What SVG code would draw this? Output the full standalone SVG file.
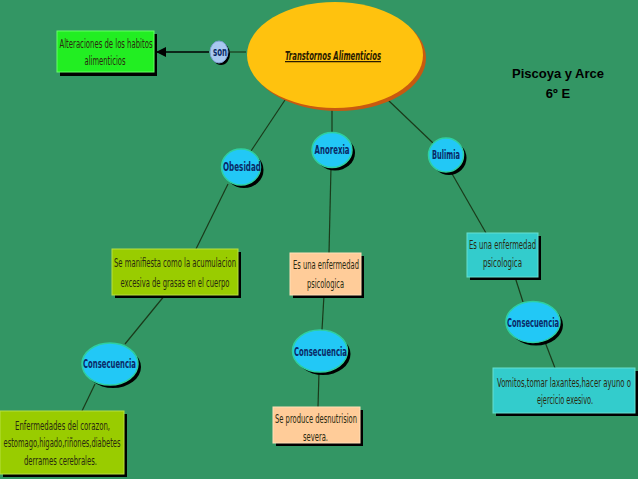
<svg xmlns="http://www.w3.org/2000/svg" width="638" height="479" viewBox="0 0 638 479">
<defs>
<style>
.t{font-family:"DejaVu Sans Condensed","DejaVu Sans",sans-serif;font-size:12.5px;fill:#2a2a10;text-anchor:middle}
.n{font-family:"DejaVu Sans Condensed","DejaVu Sans",sans-serif;font-size:12.5px;font-weight:bold;fill:#0a2a66;text-anchor:middle}
.bub{fill:#22c8f6;stroke:#2fd0a0;stroke-width:1.5}
.sh{fill:#000}
.ln{stroke:#1a3a1a;stroke-width:1.2;fill:none}
</style>
<marker id="ah" markerWidth="10" markerHeight="10" refX="9" refY="5" orient="auto" markerUnits="userSpaceOnUse">
<path d="M0,0 L10,5 L0,10 Z" fill="#000"/>
</marker>
</defs>
<rect width="638" height="479" fill="#339664"/>
<g id="connectors">
<line class="ln" x1="246" y1="52" x2="230" y2="52"/>
<line x1="209" y1="52" x2="157" y2="52" stroke="#000" stroke-width="1.5" marker-end="url(#ah)"/>
<line class="ln" x1="287" y1="97" x2="251" y2="151"/>
<line class="ln" x1="332" y1="108" x2="332" y2="133"/>
<line class="ln" x1="388" y1="100" x2="433" y2="143"/>
<line class="ln" x1="228" y1="184" x2="196" y2="249"/>
<line class="ln" x1="331" y1="167" x2="329" y2="253"/>
<line class="ln" x1="451" y1="172" x2="486" y2="233"/>
<line class="ln" x1="165" y1="295" x2="125" y2="344"/>
<line class="ln" x1="95" y1="384" x2="82" y2="411"/>
<line class="ln" x1="324" y1="295" x2="322" y2="330"/>
<line class="ln" x1="319" y1="372" x2="318" y2="407"/>
<line class="ln" x1="515" y1="277" x2="523" y2="302"/>
<line class="ln" x1="545" y1="342" x2="555" y2="368"/>
</g>
<g id="main">
<ellipse cx="338" cy="58" rx="88" ry="53" fill="#c85a10"/>
<ellipse cx="335" cy="55" rx="88" ry="53" fill="#ffc20e"/>
<text x="333" y="60" font-family="'DejaVu Sans Condensed','DejaVu Sans',sans-serif" font-size="12.5" font-weight="bold" font-style="italic" fill="#2a1a00" text-anchor="middle" text-decoration="underline" textLength="96" lengthAdjust="spacingAndGlyphs">Transtornos Alimenticios</text>
</g>
<g id="son">
<ellipse cx="221" cy="54" rx="9" ry="11" class="sh"/>
<ellipse cx="219" cy="52" rx="9" ry="11" fill="#a8c8f0" stroke="#7aa0d0" stroke-width="1"/>
<text class="n" x="220" y="56" textLength="14" lengthAdjust="spacingAndGlyphs">son</text>
</g>
<g id="alteraciones">
<rect x="60" y="34" width="97" height="42" class="sh"/>
<rect x="57" y="31" width="97" height="41" fill="#22ee22" stroke="#66ff66" stroke-width="1"/>
<text class="t" x="106" y="48" textLength="93" lengthAdjust="spacingAndGlyphs">Alteraciones de los habitos</text>
<text class="t" x="105" y="65" textLength="41" lengthAdjust="spacingAndGlyphs">alimenticios</text>
</g>
<g id="autores">
<text x="558" y="78" font-family="'Liberation Sans',Arial,sans-serif" font-size="13" font-weight="bold" fill="#000" text-anchor="middle">Piscoya y Arce</text>
<text x="558" y="98" font-family="'Liberation Sans',Arial,sans-serif" font-size="13" font-weight="bold" fill="#000" text-anchor="middle">6º E</text>
</g>
<g id="obesidad">
<ellipse cx="244" cy="170" rx="19.5" ry="18" class="sh"/>
<ellipse cx="241" cy="167" rx="19.5" ry="18" class="bub"/>
<text class="n" x="242" y="171" textLength="38" lengthAdjust="spacingAndGlyphs">Obesidad</text>
</g>
<g id="anorexia">
<ellipse cx="335" cy="153" rx="20" ry="17.5" class="sh"/>
<ellipse cx="332" cy="150" rx="20" ry="17.5" class="bub"/>
<text class="n" x="332" y="154" textLength="35" lengthAdjust="spacingAndGlyphs">Anorexia</text>
</g>
<g id="bulimia">
<ellipse cx="449" cy="158" rx="17.5" ry="17" class="sh"/>
<ellipse cx="446" cy="155" rx="17.5" ry="17" class="bub"/>
<text class="n" x="446" y="159" textLength="28" lengthAdjust="spacingAndGlyphs">Bulimia</text>
</g>
<g id="obesidad-def">
<rect x="115" y="252" width="126" height="46" class="sh"/>
<rect x="112" y="249" width="126" height="46" fill="#99cc00" stroke="#b8e040" stroke-width="1"/>
<text class="t" x="175" y="267" textLength="122" lengthAdjust="spacingAndGlyphs">Se manifiesta como la acumulacion</text>
<text class="t" x="175" y="287" textLength="109" lengthAdjust="spacingAndGlyphs">excesiva de grasas en el cuerpo</text>
</g>
<g id="anorexia-def">
<rect x="293" y="256" width="71" height="42" class="sh"/>
<rect x="290" y="253" width="71" height="42" fill="#ffcc99" stroke="#ffe0b8" stroke-width="1"/>
<text class="t" x="326" y="269" textLength="66" lengthAdjust="spacingAndGlyphs">Es una enfermedad</text>
<text class="t" x="325.5" y="288" textLength="37" lengthAdjust="spacingAndGlyphs">psicologica</text>
</g>
<g id="bulimia-def">
<rect x="470" y="236" width="71" height="44" class="sh"/>
<rect x="467" y="233" width="71" height="44" fill="#33cccc" stroke="#66e0d0" stroke-width="1"/>
<text class="t" x="502.5" y="249" textLength="67" lengthAdjust="spacingAndGlyphs">Es una enfermedad</text>
<text class="t" x="502.5" y="267" textLength="39" lengthAdjust="spacingAndGlyphs">psicologica</text>
</g>
<g id="consecuencia1">
<ellipse cx="113" cy="367" rx="28" ry="21" class="sh"/>
<ellipse cx="110" cy="364" rx="28" ry="21" class="bub"/>
<text class="n" x="109.5" y="368" textLength="53" lengthAdjust="spacingAndGlyphs">Consecuencia</text>
</g>
<g id="consecuencia2">
<ellipse cx="323" cy="354" rx="27.5" ry="21" class="sh"/>
<ellipse cx="320" cy="351" rx="27.5" ry="21" class="bub"/>
<text class="n" x="320.5" y="356" textLength="53" lengthAdjust="spacingAndGlyphs">Consecuencia</text>
</g>
<g id="consecuencia3">
<ellipse cx="536" cy="325" rx="27" ry="20.5" class="sh"/>
<ellipse cx="533" cy="322" rx="27" ry="20.5" class="bub"/>
<text class="n" x="533" y="327" textLength="52" lengthAdjust="spacingAndGlyphs">Consecuencia</text>
</g>
<g id="obesidad-cons">
<rect x="3" y="414" width="124" height="63" class="sh"/>
<rect x="0" y="411" width="124" height="63" fill="#99cc00" stroke="#b8e040" stroke-width="1"/>
<text class="t" x="62.5" y="430" textLength="95" lengthAdjust="spacingAndGlyphs">Enfermedades del corazon,</text>
<text class="t" x="62" y="447" textLength="117" lengthAdjust="spacingAndGlyphs">estomago,higado,riñones,diabetes</text>
<text class="t" x="60.5" y="465" textLength="73" lengthAdjust="spacingAndGlyphs">derrames cerebrales.</text>
</g>
<g id="anorexia-cons">
<rect x="276" y="410" width="87" height="36" class="sh"/>
<rect x="273" y="407" width="87" height="36" fill="#ffcc99" stroke="#ffe0b8" stroke-width="1"/>
<text class="t" x="316" y="423" textLength="82" lengthAdjust="spacingAndGlyphs">Se produce desnutrision</text>
<text class="t" x="315.5" y="441" textLength="25" lengthAdjust="spacingAndGlyphs">severa.</text>
</g>
<g id="bulimia-cons">
<rect x="496" y="371" width="142" height="45" class="sh"/>
<rect x="493" y="368" width="142" height="45" fill="#33cccc" stroke="#66e0d0" stroke-width="1"/>
<text class="t" x="564" y="387" textLength="134" lengthAdjust="spacingAndGlyphs">Vomitos,tomar laxantes,hacer ayuno o</text>
<text class="t" x="565" y="404" textLength="56" lengthAdjust="spacingAndGlyphs">ejercicio exesivo.</text>
</g>
</svg>
